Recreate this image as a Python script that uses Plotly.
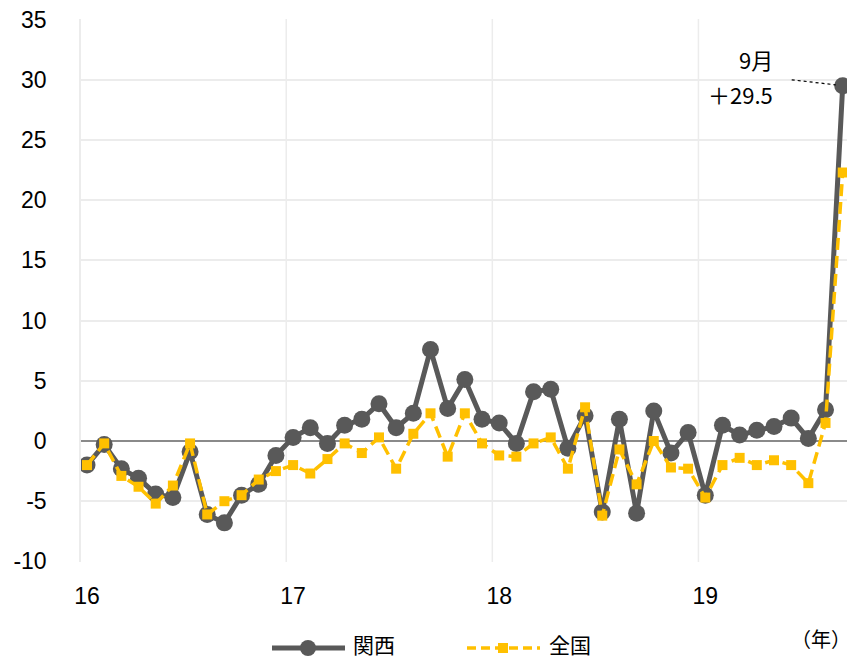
import plotly.graph_objects as go

# Monthly data, Jan 2016 - Sep 2019
months = list(range(45))
kansai = [-2.0, -0.3, -2.3, -3.1, -4.4, -4.7, -0.9, -6.1, -6.8, -4.5, -3.6, -1.2,
          0.3, 1.1, -0.2, 1.3, 1.8, 3.1, 1.1, 2.3, 7.6, 2.7, 5.1, 1.8,
          1.5, -0.2, 4.1, 4.3, -0.6, 2.1, -5.9, 1.8, -6.0, 2.5, -1.0, 0.7,
          -4.5, 1.3, 0.5, 0.9, 1.2, 1.9, 0.2, 2.6, 29.5]
zenkoku = [-2.0, -0.2, -2.9, -3.8, -5.2, -3.7, -0.2, -6.1, -5.0, -4.5, -3.2, -2.5,
           -2.0, -2.7, -1.5, -0.2, -1.0, 0.3, -2.3, 0.6, 2.3, -1.3, 2.3, -0.2,
           -1.2, -1.3, -0.2, 0.3, -2.3, 2.8, -6.2, -0.7, -3.6, 0.0, -2.2, -2.3,
           -4.7, -2.0, -1.4, -2.0, -1.6, -2.0, -3.5, 1.5, 22.3]
year_tickvals = [0, 12, 24, 36]
year_ticktext = ["16", "17", "18", "19"]
year_grid = [11.6, 23.6, 35.6]
y_tickvals = [-10, -5, 0, 5, 10, 15, 20, 25, 30, 35]
y_ticktext = ["-10", "-5", "0", "5", "10", "15", "20", "25", "30", "35"]
series_names = ["関西", "全国"]

DARK = "#595959"
YEL = "#FFC000"
GRID = "#ececec"
NUM_FONT = "Liberation Sans, Arial, sans-serif"
JP_FONT = "Noto Sans CJK JP, sans-serif"

# page body has an 8px margin; target screen positions of the plot area
OFF = 8
PL, PR, PT, PB = 81, 853, 19, 562
W, H = 855 - OFF, 661 - OFF

fig = go.Figure()
fig.add_trace(go.Scatter(
    x=months, y=kansai, name=series_names[0], mode="lines+markers",
    line=dict(color=DARK, width=5), marker=dict(symbol="circle", size=17, color=DARK),
))
fig.add_trace(go.Scatter(
    x=months, y=zenkoku, name=series_names[1], mode="lines+markers",
    line=dict(color=YEL, width=3.5, dash="12px,6px"),
    marker=dict(symbol="square", size=10, color=YEL),
))

shapes = []
for g in year_grid:
    shapes.append(dict(type="line", xref="x", yref="paper", x0=g, x1=g, y0=0, y1=1,
                       line=dict(color=GRID, width=1.5), layer="below"))
# dotted leader line to last point
shapes.append(dict(type="line", xref="x", yref="y", xsizemode="pixel", ysizemode="pixel",
                   xanchor=months[-1], yanchor=kansai[-1], x0=-51, x1=-7, y0=6, y1=1,
                   line=dict(color="black", width=1.2, dash="dot")))

# custom legend (screen pixel -> paper)
def px2x(px):
    return (px - PL) / float(PR - PL)

def py2y(py):
    return (PB - py) / float(PB - PT)

ly = py2y(648)
shapes.append(dict(type="line", xref="paper", yref="paper", x0=px2x(272), x1=px2x(345),
                   y0=ly, y1=ly, line=dict(color=DARK, width=5)))
shapes.append(dict(type="circle", xref="paper", yref="paper", xsizemode="pixel", ysizemode="pixel",
                   xanchor=px2x(308), yanchor=ly, x0=-8, x1=8, y0=-8, y1=8,
                   fillcolor=DARK, line=dict(color=DARK, width=0)))
shapes.append(dict(type="line", xref="paper", yref="paper", x0=px2x(467), x1=px2x(540),
                   y0=ly, y1=ly, line=dict(color=YEL, width=3.5, dash="9px,5px")))
shapes.append(dict(type="rect", xref="paper", yref="paper", xsizemode="pixel", ysizemode="pixel",
                   xanchor=px2x(503), yanchor=ly, x0=-5, x1=5, y0=-5, y1=5,
                   fillcolor=YEL, line=dict(color=YEL, width=0)))

ty = py2y(644)
annotations = [
    dict(x=months[-1], y=kansai[-1], xref="x", yref="y", text="9月", showarrow=False,
         xanchor="right", yanchor="middle", xshift=-68, yshift=27,
         font=dict(family=JP_FONT, size=22, color="black")),
    dict(x=months[-1], y=kansai[-1], xref="x", yref="y", text="＋29.5", showarrow=False,
         xanchor="right", yanchor="middle", xshift=-68, yshift=-8,
         font=dict(family=JP_FONT, size=22, color="black")),
    dict(x=px2x(351), y=ty, xref="paper", yref="paper", text=series_names[0], showarrow=False,
         xanchor="left", yanchor="middle",
         font=dict(family=JP_FONT, size=21, color="black")),
    dict(x=px2x(547), y=ty, xref="paper", yref="paper", text=series_names[1], showarrow=False,
         xanchor="left", yanchor="middle",
         font=dict(family=JP_FONT, size=21, color="black")),
    dict(x=px2x(853), y=py2y(638), xref="paper", yref="paper", text="（年）", showarrow=False,
         xanchor="right", yanchor="middle",
         font=dict(family=JP_FONT, size=20, color="black")),
]

fig.update_layout(
    width=W, height=H,
    margin=dict(l=PL - OFF, r=855 - PR, t=PT - OFF, b=661 - PB, autoexpand=False),
    paper_bgcolor="white", plot_bgcolor="white",
    showlegend=False,
    shapes=shapes, annotations=annotations,
    xaxis=dict(range=[-0.35, 44.6], tickvals=year_tickvals, ticktext=year_ticktext,
               showgrid=False, zeroline=False, showline=False, ticks="",
               tickfont=dict(family=NUM_FONT, size=23, color="black"),
               ticklabelstandoff=18, automargin=False, ticklabeloverflow="allow"),
    yaxis=dict(range=[-10.05, 35.05], tickvals=y_tickvals, ticktext=y_ticktext,
               showgrid=True, gridcolor=GRID, gridwidth=1.5,
               zeroline=True, zerolinecolor="#8a8a8a", zerolinewidth=2,
               showline=True, linecolor=GRID, linewidth=1.5, ticks="",
               tickfont=dict(family=NUM_FONT, size=23, color="black"),
               ticklabelstandoff=28, automargin=False, ticklabeloverflow="allow"),
)

fig.write_html("out.html")
